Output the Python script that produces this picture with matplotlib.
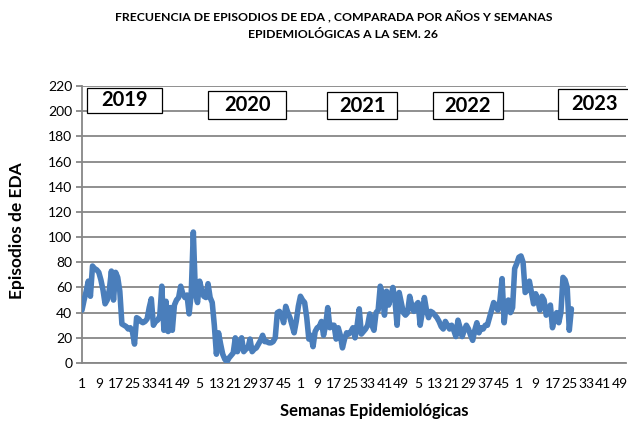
import matplotlib.pyplot as plt
import matplotlib.patches as patches
import numpy as np

# weekly EDA episodes per year (epidemiological weeks)
years = ['2019', '2020', '2021', '2022', '2023']
eda_2019 = [42, 50, 57, 65, 53, 77, 75, 74, 72, 66, 58, 47, 50, 58, 73, 50, 72, 68, 57, 31,
            30, 29, 27, 28, 25, 15, 36, 35, 33, 32, 33, 35, 44, 51, 30, 33, 34, 37, 61, 26,
            49, 25, 44, 26, 46, 50, 52, 61, 55, 52, 54, 39]
eda_2020 = [55, 104, 55, 48, 65, 58, 53, 52, 63, 52, 48, 30, 7, 24, 15, 7, 3, 1, 4, 6,
            8, 20, 9, 14, 20, 9, 11, 12, 19, 9, 11, 12, 15, 18, 22, 17, 17, 16, 16, 17,
            20, 40, 41, 38, 32, 45, 40, 36, 30, 24, 33, 45]
eda_2021 = [53, 50, 48, 36, 19, 22, 13, 25, 28, 29, 33, 22, 30, 44, 28, 30, 30, 19, 28, 22,
            12, 19, 24, 23, 25, 28, 20, 30, 43, 23, 25, 27, 30, 39, 30, 26, 40, 42, 61, 55,
            38, 57, 46, 52, 60, 50, 30, 56, 48, 40, 38, 40]
eda_2022 = [53, 46, 41, 46, 48, 30, 40, 52, 42, 36, 41, 40, 38, 36, 33, 29, 27, 33, 30, 27,
            30, 26, 21, 34, 28, 21, 26, 30, 27, 22, 18, 26, 32, 24, 28, 27, 30, 30, 36, 42,
            48, 45, 42, 50, 67, 32, 48, 50, 40, 44, 75, 79]
eda_2023 = [84, 85, 80, 56, 58, 65, 56, 47, 55, 50, 42, 53, 50, 38, 42, 46, 28, 36, 40, 32,
            40, 68, 66, 60, 26, 43]

weeks = list(range(1, 53)) * len(years)
values = eda_2019 + eda_2020 + eda_2021 + eda_2022 + eda_2023

plt.rcParams['font.family'] = ['Lato', 'DejaVu Sans']

fig = plt.figure(figsize=(6.28, 4.21), dpi=100)
ax = fig.add_axes([82 / 628, 1 - 363 / 421, 544 / 628, 277 / 421])

grid_col = '#878787'
ax.plot(np.arange(len(values)), values, color='#4a7ebb', lw=4,
        solid_joinstyle='round', solid_capstyle='round', zorder=3)

ax.set_xlim(0, len(weeks) - 1)
ax.set_ylim(0, 220)
ax.set_yticks(range(0, 221, 20))
ax.yaxis.grid(True, color=grid_col, lw=1.3)
ax.set_axisbelow(True)

tick_pos = list(range(0, len(weeks), 8))
ax.set_xticks(tick_pos)
ax.set_xticklabels([str(weeks[i]) for i in tick_pos], fontsize=10)
ax.tick_params(axis='x', length=0, pad=11)
ax.tick_params(axis='y', length=4, color=grid_col, width=1.3, labelsize=10, pad=3)

for s in ['top', 'right']:
    ax.spines[s].set_visible(False)
for s in ['left', 'bottom']:
    ax.spines[s].set_color(grid_col)
    ax.spines[s].set_linewidth(1.3)

# year boxes (figure pixel coords: x0, y_top, x1, y_bottom)
boxes = [(87, 88, 162, 113), (208, 91, 286, 119), (327, 92, 397, 119),
         (433, 92, 503, 119), (558, 89, 632, 119)]
for yr, (x0, y0, x1, y1) in zip(years, boxes):
    rect = patches.Rectangle((x0 / 628, 1 - y1 / 421), (x1 - x0) / 628, (y1 - y0) / 421,
                             transform=fig.transFigure, fc='white', ec='black', lw=0.9,
                             zorder=5)
    fig.patches.append(rect)
    fig.text((x0 + x1) / 2 / 628, 1 - (y0 + y1) / 2 / 421, yr, ha='center', va='center',
             fontsize=14.5, fontweight='bold', zorder=6)

fig.text(334 / 628, 1 - 17 / 421,
         'FRECUENCIA DE EPISODIOS DE EDA , COMPARADA POR AÑOS Y SEMANAS',
         ha='center', va='center', fontsize=8.85, fontweight='bold')
fig.text(343 / 628, 1 - 35 / 421, 'EPIDEMIOLÓGICAS A LA SEM. 26',
         ha='center', va='center', fontsize=8.85, fontweight='bold')
fig.text(17 / 628, 1 - 231 / 421, 'Episodios de EDA', rotation=90,
         ha='center', va='center', fontsize=12.5, fontweight='bold')
fig.text(374 / 628, 1 - 403 / 421, 'Semanas Epidemiológicas',
         ha='center', va='top', fontsize=12, fontweight='bold')

fig.savefig('out.png', dpi=100)
